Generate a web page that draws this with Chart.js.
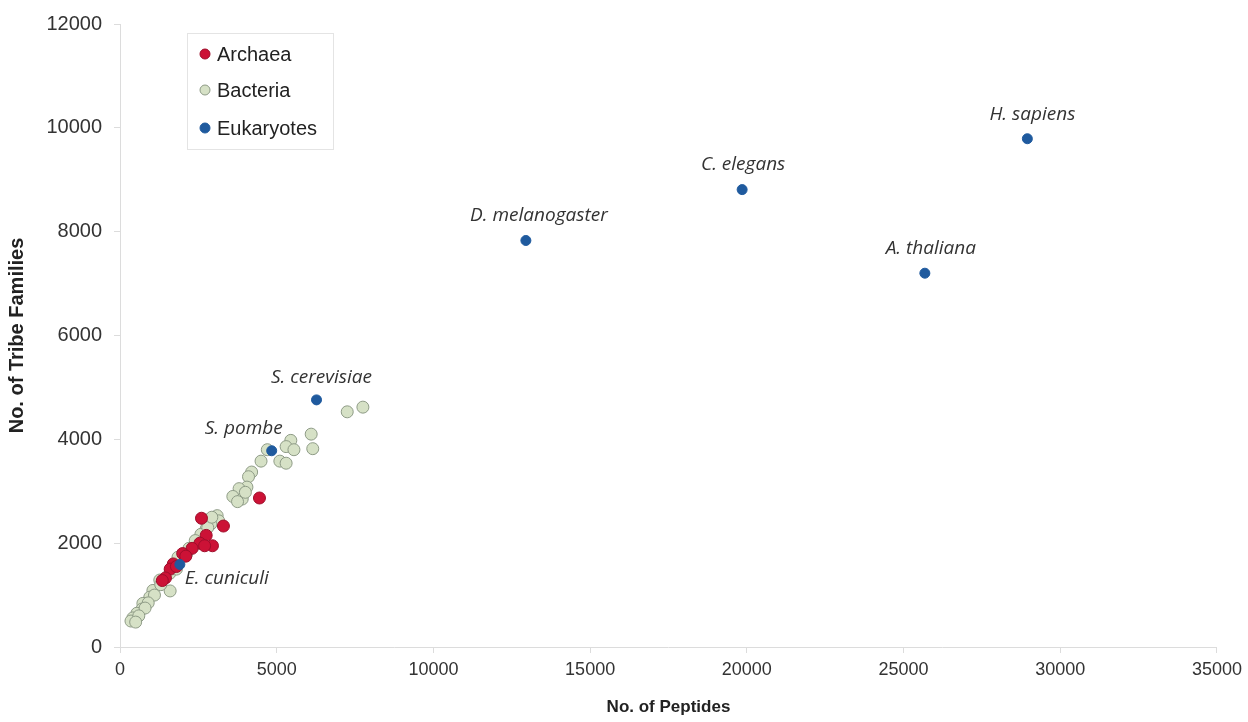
<!DOCTYPE html>
<html>
<head>
<meta charset="utf-8">
<script src="https://cdn.jsdelivr.net/npm/chart.js@4.4.0/dist/chart.umd.min.js"></script>
<style>
  html,body{margin:0;padding:0;background:#fff;}
  #wrap{width:1248px;height:722px;position:relative;}
</style>
</head>
<body>
<div id="wrap"><canvas id="scatter" width="1248" height="722"></canvas></div>
<script>
// peptides (x) vs tribe families (y), one pair of arrays per group
const archaeaPeptides = [4450, 2600, 3300, 2750, 2550, 2950, 2300, 2000, 1700, 1600, 1450, 1350, 2700, 1800, 2100];
const archaeaFamilies = [2870, 2480, 2330, 2150, 2000, 1950, 1900, 1800, 1600, 1500, 1330, 1280, 1950, 1550, 1750];

const bacteriaPeptides = [7750, 7250, 6100, 6150, 5450, 5300, 5550, 4700, 5100, 5300, 4500, 4200, 4100, 4050, 3800, 3600, 3900, 4000, 3750,
  3100, 3150, 2900, 2750, 2580, 2320, 2130, 1850, 1590, 1600, 1270, 1050, 950, 730, 700, 540, 410, 350,
  2700, 2800, 1800, 2200, 2400, 1300, 1100, 900, 800, 600, 500, 2930];
const bacteriaFamilies = [4620, 4530, 4100, 3820, 3980, 3860, 3800, 3800, 3580, 3540, 3580, 3370, 3280, 3080, 3050, 2900, 2850, 2980, 2800,
  2530, 2430, 2370, 2280, 2170, 1920, 1800, 1730, 1420, 1080, 1290, 1090, 960, 840, 730, 650, 560, 500,
  2450, 2300, 1500, 1900, 2050, 1200, 1000, 850, 750, 600, 480, 2500];

const eukaryoteNames = ['H. sapiens', 'C. elegans', 'D. melanogaster', 'A. thaliana', 'S. cerevisiae', 'S. pombe', 'E. cuniculi'];
const eukaryotePeptides = [28950, 19850, 12950, 25680, 6270, 4840, 1910];
const eukaryoteFamilies = [9790, 8810, 7830, 7200, 4760, 3780, 1590];

const xTicks = [0, 5000, 10000, 15000, 20000, 25000, 30000, 35000];
const yTicks = [0, 2000, 4000, 6000, 8000, 10000, 12000];

const toPoints = (xs, ys) => xs.map((x, i) => ({x: x, y: ys[i]}));

// label placement around each eukaryote point (pixels)
const labelOffsets = [[5,-24,'center'],[1,-25,'center'],[13,-25,'center'],[6,-25,'center'],[5,-22,'center'],[-28,-22,'center'],[5,14,'left']];

const speciesLabels = {
  id: 'speciesLabels',
  afterDatasetsDraw(chart){
    const ctx = chart.ctx, xs = chart.scales.x, ys = chart.scales.y;
    ctx.save();
    ctx.font = 'italic 19px "Open Sans", "Noto Sans", sans-serif';
    ctx.fillStyle = '#333';
    ctx.textBaseline = 'middle';
    eukaryoteNames.forEach((name, i) => {
      const o = labelOffsets[i];
      ctx.textAlign = o[2];
      ctx.fillText(name, xs.getPixelForValue(eukaryotePeptides[i]) + o[0], ys.getPixelForValue(eukaryoteFamilies[i]) + o[1]);
    });
    ctx.restore();
  }
};

// boxed legend sitting inside the plot area
const boxLegend = {
  id: 'boxLegend',
  afterDraw(chart){
    const ctx = chart.ctx;
    const left = 187, top = 33, w = 146, h = 116;
    ctx.save();
    ctx.strokeStyle = '#e4e4e4';
    ctx.lineWidth = 1;
    ctx.fillStyle = '#fff';
    ctx.fillRect(left, top, w, h);
    ctx.strokeRect(left + 0.5, top + 0.5, w, h);
    ctx.font = '20px "Liberation Sans", Arial, sans-serif';
    ctx.textBaseline = 'middle';
    ctx.textAlign = 'left';
    const rows = [54, 90, 128];
    chart.data.datasets.forEach((ds, i) => {
      const y = rows[i];
      ctx.beginPath();
      ctx.arc(left + 18, y, 5, 0, Math.PI * 2);
      ctx.fillStyle = ds.backgroundColor;
      ctx.fill();
      ctx.strokeStyle = ds.borderColor;
      ctx.lineWidth = 1;
      ctx.stroke();
      ctx.fillStyle = '#222';
      ctx.fillText(ds.label, left + 30, y + 1);
    });
    ctx.restore();
  }
};

new Chart(document.getElementById('scatter'), {
  type: 'scatter',
  data: {
    datasets: [
      {label: 'Archaea', data: toPoints(archaeaPeptides, archaeaFamilies), backgroundColor: '#cc1236', borderColor: '#9e0d2a', borderWidth: 1, pointRadius: 6, order: 1},
      {label: 'Bacteria', data: toPoints(bacteriaPeptides, bacteriaFamilies), backgroundColor: '#d6e1c6', borderColor: '#8e9b86', borderWidth: 1, pointRadius: 6, order: 2},
      {label: 'Eukaryotes', data: toPoints(eukaryotePeptides, eukaryoteFamilies), backgroundColor: '#1f5a9e', borderColor: '#1f5a9e', borderWidth: 1, pointRadius: 5, order: 0}
    ]
  },
  options: {
    responsive: false,
    animation: false,
    layout: {padding: {left: 0, right: 30, top: 20, bottom: 0}},
    plugins: {legend: {display: false}, tooltip: {enabled: false}},
    scales: {
      x: {
        type: 'linear', min: 0, max: 35000,
        afterBuildTicks: s => { s.ticks = xTicks.map(v => ({value: v})); },
        afterFit: s => { s.height = 75; },
        grid: {drawOnChartArea: false, color: '#dcdcdc', tickLength: 6},
        border: {color: '#dcdcdc'},
        ticks: {color: '#333', font: {family: '"Liberation Sans", Arial', size: 18}, padding: 6, maxRotation: 0, callback: v => String(v)},
        title: {display: true, text: 'No. of Peptides', color: '#222', font: {family: '"Liberation Sans", Arial', size: 17, weight: 'bold'}, padding: {top: 7}}
      },
      y: {
        type: 'linear', min: 0, max: 12000,
        afterBuildTicks: s => { s.ticks = yTicks.map(v => ({value: v})); },
        afterFit: s => { s.width = 120; },
        grid: {drawOnChartArea: false, color: '#dcdcdc', tickLength: 6},
        border: {color: '#dcdcdc'},
        ticks: {color: '#333', font: {family: '"Liberation Sans", Arial', size: 20}, padding: 12, callback: v => String(v)},
        title: {display: true, text: 'No. of Tribe Families', color: '#222', font: {family: '"Liberation Sans", Arial', size: 20, weight: 'bold'}, padding: {top: 5, bottom: 6}}
      }
    }
  },
  plugins: [speciesLabels, boxLegend]
});
</script>
</body>
</html>
